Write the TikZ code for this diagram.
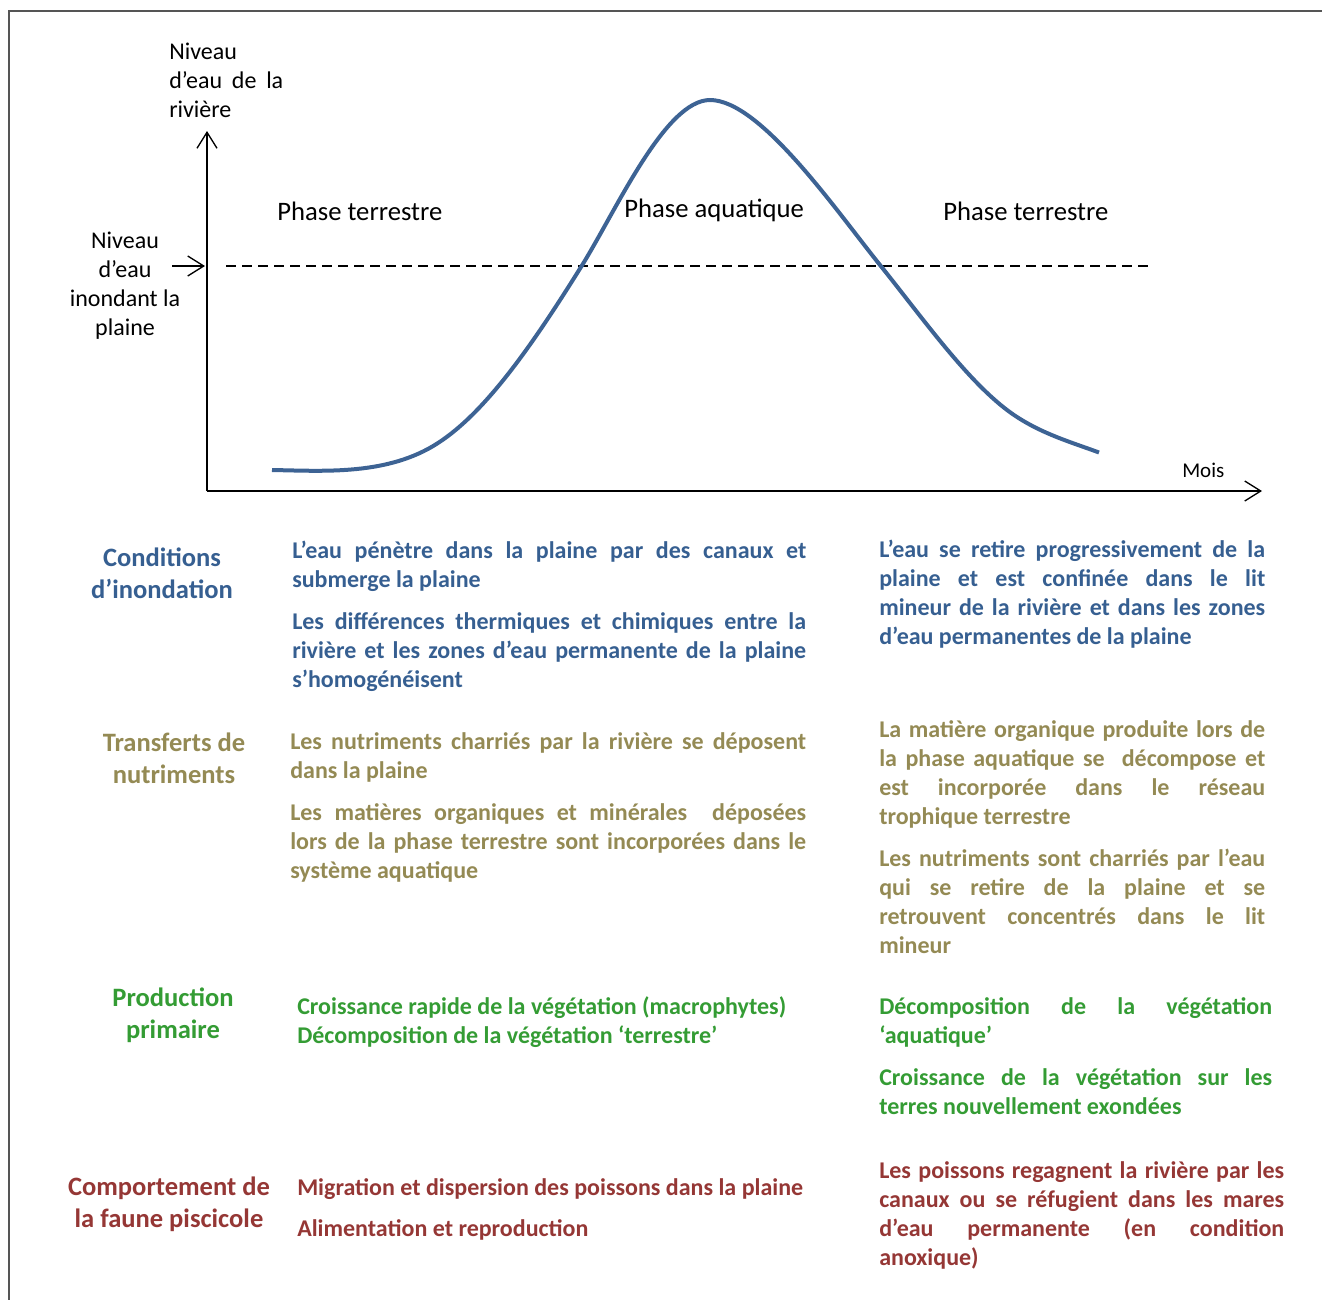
\documentclass[tikz,border=0pt]{standalone}
\usepackage{fontspec}
\setmainfont{Carlito}
\usepackage{tikz}
\usetikzlibrary{arrows.meta}
\setlength{\parindent}{0pt}

\definecolor{frameGray}{RGB}{85,85,85}
\definecolor{curveBlue}{RGB}{61,99,148}
\definecolor{condBlue}{RGB}{54,95,145}
\definecolor{nutOlive}{RGB}{148,138,84}
\definecolor{prodGreen}{RGB}{52,156,52}
\definecolor{poisRed}{RGB}{149,55,53}

\newcommand{\graphfont}{\fontsize{18}{21.75}\selectfont}
\newcommand{\phasefont}{\fontsize{20}{24}\selectfont}
\newcommand{\headfont}{\fontsize{19.9}{24.5}\selectfont\bfseries}
\newcommand{\cellfont}{\fontsize{18}{21.75}\selectfont\bfseries}

\tikzset{
  axis/.style={line width=1pt,-{Straight Barb[length=12pt,width=15pt,line width=1pt]}},
  head/.style={anchor=north,inner sep=0pt,align=center,font=\headfont},
  cell/.style={anchor=north west,inner sep=0pt,align=justify,font=\cellfont},
}

\begin{document}
\begin{tikzpicture}[x=0.75pt,y=0.75pt,yscale=-1]
\useasboundingbox (0,0) rectangle (1322,1300);

% Frame
\draw [frameGray,line width=1.5pt] (9,1300) -- (9,11) -- (1322,11);

% Axes
\coordinate (origin) at (207,491);
\coordinate (ytop) at (207,131);
\coordinate (xend) at (1262,491);
\draw [axis] (origin) -- (ytop);
\draw [axis] (origin) -- (xend);

% Flood level
\coordinate (floodA) at (172,266);
\coordinate (floodB) at (205,266);
\coordinate (dashA) at (226,266);
\coordinate (dashB) at (1152,266);
\draw [axis,line width=1pt] (floodA) -- (floodB);
\draw [line width=1pt,dash pattern=on 7.5pt off 4.5pt] (dashA) -- (dashB);

% Water level curve
\coordinate (lowL) at (272,470);
\coordinate (rise) at (438,443);
\coordinate (upCross) at (581,267);
\coordinate (peak) at (710,100);
\coordinate (downCross) at (880,265);
\coordinate (fall) at (1017,417);
\coordinate (lowR) at (1099,452.5);
\draw [curveBlue,line width=3pt] (lowL)
  .. controls (325,471) and (388,475.5) .. (rise)
  .. controls (486,412) and (533,344) .. (upCross)
  .. controls (616,211) and (665,100) .. (peak)
  .. controls (760,100) and (835,209) .. (downCross)
  .. controls (925,321) and (972,388) .. (fall)
  .. controls (1044,434.5) and (1072,442.5) .. (lowR);

% Text Node
\draw (169,39) node (rivLabel) [anchor=north west][inner sep=0pt][align=left][font=\graphfont]
  {\strut Niveau\\\strut\makebox[85.5pt][s]{d’eau de la}\\\strut rivière};
% Text Node
\draw (125,227.5) node (inondLabel) [anchor=north][inner sep=0pt][align=center][font=\graphfont]
  {\strut Niveau\\\strut d’eau\\\strut inondant la\\\strut plaine};
% Text Node
\draw (277,220.5) node (phaseL) [anchor=base west][inner sep=0pt][font=\phasefont] {Phase terrestre};
% Text Node
\draw (624,217.5) node (phaseA) [anchor=base west][inner sep=0pt][font=\phasefont] {Phase aquatique};
% Text Node
\draw (943,220.5) node (phaseR) [anchor=base west][inner sep=0pt][font=\phasefont] {Phase terrestre};
% Text Node
\draw (1182,477) node (mois) [anchor=base west][inner sep=0pt][font=\fontsize{15.75}{19}\selectfont] {Mois};

% Conditions d'inondation
\draw (162,543) node (condHead) [head,text=condBlue] {\strut Conditions\\\strut d’inondation};
\draw (292,538) node (condMidA) [cell,text=condBlue,text width=385.5pt]
  {\strut L’eau pénètre dans la plaine par des canaux et\linebreak submerge la plaine};
\draw (292,609) node (condMidB) [cell,text=condBlue,text width=385.5pt]
  {\strut Les différences thermiques et chimiques entre la\linebreak rivière et les zones d’eau permanente de la plaine\linebreak s’homogénéisent};
\draw (879,537) node (condRight) [cell,text=condBlue,text width=289.5pt]
  {\strut L’eau se retire progressivement de la\linebreak plaine et est confinée dans le lit\linebreak mineur de la rivière et dans les zones\linebreak d’eau permanentes de la plaine};

% Transferts de nutriments
\draw (174,728) node (nutHead) [head,text=nutOlive] {\strut Transferts de\\\strut nutriments};
\draw (290,729) node (nutMidA) [cell,text=nutOlive,text width=387pt]
  {\strut Les nutriments charriés par la rivière se déposent\linebreak dans la plaine};
\draw (290,800) node (nutMidB) [cell,text=nutOlive,text width=387pt]
  {\strut Les matières organiques et minérales\ \ déposées\linebreak lors de la phase terrestre sont incorporées dans le\linebreak système aquatique};
\draw (879,717) node (nutRightA) [cell,text=nutOlive,text width=289.5pt]
  {\strut La matière organique produite lors de\linebreak la phase aquatique se\ \ décompose et\linebreak est incorporée dans le réseau\linebreak trophique terrestre};
\draw (879,846) node (nutRightB) [cell,text=nutOlive,text width=289.5pt]
  {\strut Les nutriments sont charriés par l’eau\linebreak qui se retire de la plaine et se\linebreak retrouvent concentrés dans le lit\linebreak mineur};

% Production primaire
\draw (173,983) node (prodHead) [head,text=prodGreen] {\strut Production\\\strut primaire};
\draw (297,994) node (prodMid) [cell,align=left,text=prodGreen]
  {\strut Croissance rapide de la végétation (macrophytes)\\\strut Décomposition de la végétation ‘terrestre’};
\draw (879,994) node (prodRightA) [cell,text=prodGreen,text width=294.75pt]
  {\strut Décomposition de la végétation\linebreak ‘aquatique’};
\draw (879,1065) node (prodRightB) [cell,text=prodGreen,text width=294.75pt]
  {\strut Croissance de la végétation sur les\linebreak terres nouvellement exondées};

% Comportement de la faune piscicole
\draw (169,1172) node (poisHead) [head,text=poisRed] {\strut Comportement de\\\strut la faune piscicole};
\draw (297,1175) node (poisMidA) [cell,align=left,text=poisRed]
  {\strut Migration et dispersion des poissons dans la plaine};
\draw (297,1216) node (poisMidB) [cell,align=left,text=poisRed]
  {\strut Alimentation et reproduction};
\draw (879,1158) node (poisRight) [cell,text=poisRed,text width=303.75pt]
  {\strut Les poissons regagnent la rivière par les\linebreak canaux ou se réfugient dans les mares\linebreak d’eau permanente (en condition\linebreak anoxique)};

\end{tikzpicture}
\end{document}
